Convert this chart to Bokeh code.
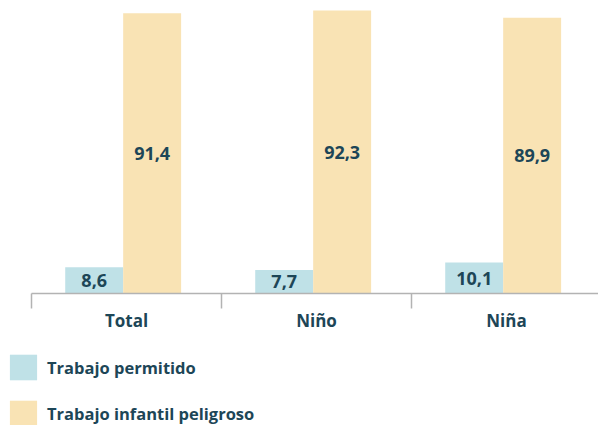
from bokeh.plotting import figure
from bokeh.models import ColumnDataSource, FixedTicker, Legend, LegendItem, Range1d
from bokeh.core.properties import value
from bokeh.embed import file_html
from bokeh.resources import INLINE

categories = ["Total", "Niño", "Niña"]
permitido = [8.6, 7.7, 10.1]
peligroso = [91.4, 92.3, 89.9]
series_names = ["Trabajo permitido", "Trabajo infantil peligroso"]

BLUE = "#bfe1e7"
YELLOW = "#f9e3b4"
TEXT = "#1d4657"
GRAY = "#b3b3b3"
FONT = "Open Sans"

W, H = 598, 425
CAT_PX = 190.0      # pixel width of one category
LEFT_PX = 31.0      # pixel position of the first category boundary
BASE_PX = 293.0     # pixel position of the baseline
PX_PER_UNIT = 3.066

centers = [i + 0.5 for i in range(len(categories))]
bw = 0.305
off_a = -0.17
off_b = off_a + bw

src = ColumnDataSource(dict(
    xa=[c + off_a for c in centers],
    xb=[c + off_b for c in centers],
    a=permitido,
    b=peligroso,
    ya=[v / 2 for v in permitido],
    yb=[v / 2 for v in peligroso],
    la=[f"{v:.1f}".replace(".", ",") for v in permitido],
    lb=[f"{v:.1f}".replace(".", ",") for v in peligroso],
))

x_range = Range1d(-LEFT_PX / CAT_PX, (W - LEFT_PX) / CAT_PX)
y_range = Range1d(-(H - BASE_PX) / PX_PER_UNIT, BASE_PX / PX_PER_UNIT)

p = figure(width=W, height=H, output_backend="svg", toolbar_location=None,
           x_range=x_range, y_range=y_range,
           min_border_left=0, min_border_right=0, min_border_top=0,
           min_border_bottom=0)
p.outline_line_color = None
p.xgrid.visible = False
p.ygrid.visible = False
p.yaxis.visible = False

ra = p.vbar(x="xa", top="a", width=bw, source=src, fill_color=BLUE, line_color=None)
rb = p.vbar(x="xb", top="b", width=bw, source=src, fill_color=YELLOW, line_color=None)

# baseline spanning the categories
p.segment(x0=[0], x1=[float(len(categories))], y0=[0], y1=[0],
          line_color=GRAY, line_width=1.5)

for xcol, ycol, lcol in (("xa", "ya", "la"), ("xb", "yb", "lb")):
    p.text(x=xcol, y=ycol, text=lcol, source=src, text_align="center",
           text_baseline="middle", text_font=value(FONT), text_font_style="bold",
           text_font_size="18px", text_color=TEXT)

ax = p.xaxis[0]
ax.fixed_location = 0
ax.ticker = FixedTicker(ticks=centers, minor_ticks=[float(i) for i in range(len(categories) + 1)])
ax.major_label_overrides = {c: name for c, name in zip(centers, categories)}
ax.axis_line_color = None
ax.major_tick_line_color = None
ax.major_tick_in = 0
ax.major_tick_out = 0
ax.minor_tick_in = 0
ax.minor_tick_out = 15
ax.minor_tick_line_color = GRAY
ax.minor_tick_line_width = 1.5
ax.major_label_standoff = 0
ax.major_label_text_font = FONT
ax.major_label_text_font_style = "bold"
ax.major_label_text_font_size = "17px"
ax.major_label_text_color = TEXT

legend = Legend(items=[LegendItem(label=series_names[0], renderers=[ra]),
                       LegendItem(label=series_names[1], renderers=[rb])],
                location=(6, -4), orientation="vertical",
                glyph_width=34, glyph_height=32, spacing=14, label_standoff=7,
                padding=0, margin=0, border_line_color=None,
                background_fill_alpha=0,
                label_text_font=FONT, label_text_font_style="bold",
                label_text_font_size="16.5px", label_text_color=TEXT,
                label_height=32)
p.add_layout(legend)

open("out.html", "w").write(file_html(p, INLINE))
